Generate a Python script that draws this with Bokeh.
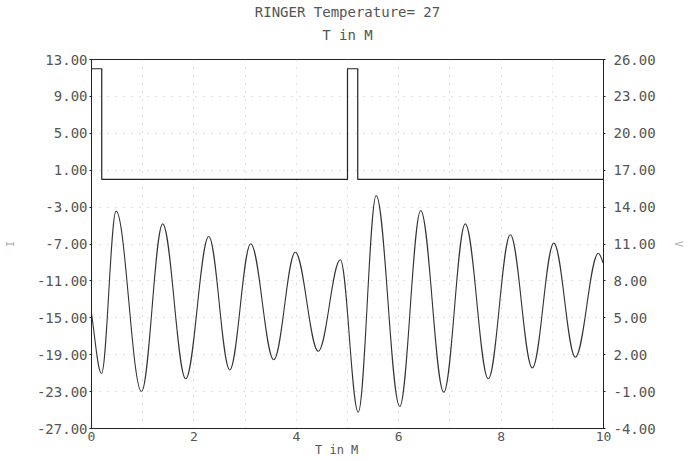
from bokeh.plotting import figure
from bokeh.models import Range1d, LinearAxis, FixedTicker, NumeralTickFormatter, Title
from bokeh.embed import file_html
from bokeh.resources import INLINE

# ---- data ----
# stimulus current (left axis)
pulse_t = [0.0, 0.2, 0.2, 5.0, 5.0, 5.2, 5.2, 10.0]
pulse_i = [12.0, 12.0, 0.0, 0.0, 12.0, 12.0, 0.0, 0.0]

# oscillation turning points (right axis)
osc_t = [0.0, 0.195, 0.48, 0.977, 1.39, 1.84, 2.29, 2.70, 3.11, 3.56, 3.98, 4.43, 4.86,
         5.21, 5.56, 6.02, 6.43, 6.88, 7.30, 7.75, 8.18, 8.61, 9.03, 9.45, 9.90, 10.0]
osc_v = [5.35, 0.47, 13.67, -0.99, 12.64, 0.04, 11.61, 0.77, 11.02, 1.59, 10.33, 2.28, 9.72,
         -2.67, 14.94, -2.21, 13.72, -1.05, 12.64, 0.04, 11.75, 0.93, 11.07, 1.80, 10.25, 9.41]

left_ticks = [-27, -23, -19, -15, -11, -7, -3, 1, 5, 9, 13]
right_ticks = [-4, -1, 2, 5, 8, 11, 14, 17, 20, 23, 26]
x_ticks = [0, 2, 4, 6, 8, 10]

main_title = "RINGER Temperature= 27"
sub_title = "T in M"
x_title = "T in M"

FONT = "DejaVu Sans Mono"
TXT = "#555555"
NB = "\u00a0"

p = figure(width=690, height=461, output_backend="svg", toolbar_location=None,
           x_range=Range1d(0, 10), y_range=Range1d(-27, 13),
           min_border_left=91, min_border_right=87, min_border_top=59, min_border_bottom=33,
           background_fill_color="white", border_fill_color="white")
p.outline_line_color = "#222222"
p.outline_line_width = 1
p.extra_y_ranges = {"v": Range1d(-4, 26)}

# titles: an empty spacer next to the frame, then the subtitle, then the main title
p.add_layout(Title(text=NB, text_font_size="1px", standoff=10), "above")
p.add_layout(Title(text=sub_title, align="center", text_font=FONT, text_font_size="14px",
                   text_font_style="normal", text_color=TXT, standoff=8), "above")
p.add_layout(Title(text=main_title, align="center", text_font=FONT, text_font_size="14px",
                   text_font_style="normal", text_color=TXT, standoff=2), "above")

# grids
p.xgrid.ticker = FixedTicker(ticks=list(range(0, 11)))
p.ygrid.ticker = FixedTicker(ticks=left_ticks)
for g in (p.xgrid, p.ygrid):
    g.grid_line_color = "#c0c0c0"
    g.grid_line_dash = "1 7"
    g.grid_line_width = 1

def style_axis(ax):
    ax.major_label_text_font = FONT
    ax.major_label_text_font_size = "14px"
    ax.major_label_text_color = TXT
    ax.axis_label_text_font = FONT
    ax.axis_label_text_font_size = "10px"
    ax.axis_label_text_font_style = "normal"
    ax.axis_label_text_color = "#aaaaaa"
    ax.axis_line_color = "#222222"
    ax.major_tick_line_color = "#222222"
    ax.major_tick_out = 2
    ax.major_tick_in = 0
    ax.minor_tick_line_color = None
    ax.major_label_standoff = 2

# x axis
p.xaxis.ticker = FixedTicker(ticks=x_ticks)
style_axis(p.xaxis[0])
p.xaxis.axis_label = x_title + NB * 3
p.xaxis.major_tick_out = 0
p.xaxis.major_label_standoff = 3
p.xaxis.major_label_text_font_size = "13px"
p.xaxis.axis_label_text_font_size = "12px"
p.xaxis.axis_label_text_color = TXT
p.xaxis.axis_label_standoff = -1

# left axis
p.yaxis.ticker = FixedTicker(ticks=left_ticks)
p.yaxis.formatter = NumeralTickFormatter(format="0.00")
p.yaxis.axis_label = "I"
style_axis(p.yaxis[0])
p.yaxis.axis_label_standoff = 18

# right axis
ra = LinearAxis(y_range_name="v", ticker=FixedTicker(ticks=right_ticks),
                formatter=NumeralTickFormatter(format="0.00"), axis_label="V")
style_axis(ra)
ra.major_label_standoff = 8
ra.axis_label_standoff = 14
p.add_layout(ra, "right")

# stimulus pulses
p.line(pulse_t, pulse_i, line_color="#222222", line_width=1.2)

# oscillation as smooth half-cycles between turning points
K = 0.3634
x0, y0, x1, y1, cx0, cy0, cx1, cy1 = [], [], [], [], [], [], [], []
n = len(osc_t)
for i in range(n - 1):
    a_t, a_v, b_t, b_v = osc_t[i], osc_v[i], osc_t[i + 1], osc_v[i + 1]
    dt = b_t - a_t
    x0.append(a_t); y0.append(a_v); x1.append(b_t); y1.append(b_v)
    c0v = a_v if i > 0 else a_v + 0.4 * (b_v - a_v)
    c1v = b_v if i < n - 2 else b_v + 0.35 * (a_v - b_v)
    cx0.append(a_t + K * dt); cy0.append(c0v)
    cx1.append(b_t - K * dt); cy1.append(c1v)
p.bezier(x0=x0, y0=y0, x1=x1, y1=y1, cx0=cx0, cy0=cy0, cx1=cx1, cy1=cy1,
         y_range_name="v", line_color="#333333", line_width=1.1)

open("out.html", "w").write(file_html(p, INLINE))
